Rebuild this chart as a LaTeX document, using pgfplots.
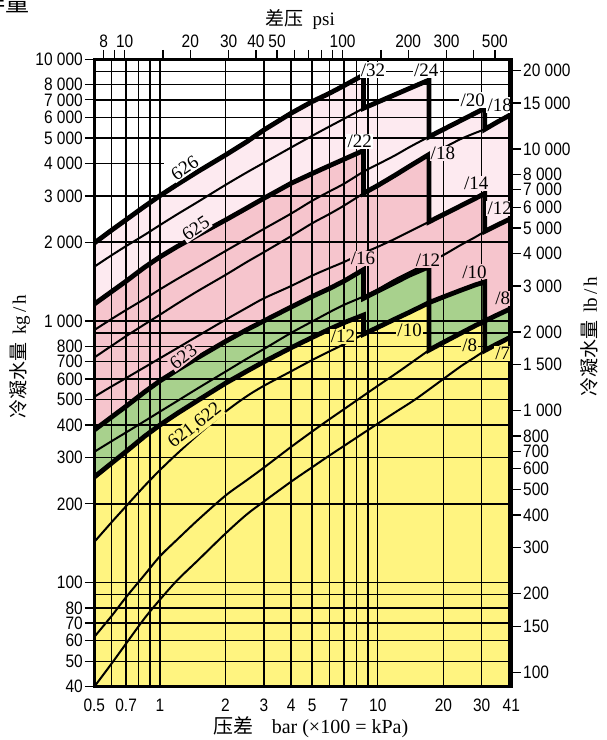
\documentclass[border=0pt]{standalone}
\usepackage{fontspec}
\setmainfont{Liberation Serif}
\newfontfamily\sansn{Liberation Sans}[FakeStretch=0.86]
\newfontfamily\cjk{Noto Sans CJK SC}
\usepackage{pgfplots}
\pgfplotsset{compat=1.18}
\definecolor{lpink}{RGB}{253,234,240}
\definecolor{mpink}{RGB}{246,197,205}
\definecolor{mgreen}{RGB}{168,209,141}
\definecolor{myellow}{RGB}{255,244,128}
\newcommand{\tickf}{\sansn\fontsize{9}{10}\selectfont}
\tikzset{lab/.style={font=\fontsize{9.5}{10}\selectfont, inner sep=0.6pt}}
\pgfplotsset{
  thickenv/.style={black, line width=2.4pt, line join=miter, line cap=butt},
  thinline/.style={black, line width=1pt, smooth, tension=0.5},
}
\begin{document}
\begin{tikzpicture}
\begin{axis}[
  set layers,
  at={(0pt,0pt)}, anchor=south west,
  scale only axis, width=208.5pt, height=313.7pt,
  xmode=log, ymode=log,
  xmin=0.5, xmax=41, ymin=40, ymax=10000,
  axis line style={line width=1.4pt},
  tick align=outside,
  major tick length=4.75pt, minor tick length=0pt,
  tick style={black, line width=0.65pt},
  xtick={0.5,0.7,1,2,3,4,5,7,10,20,30,41},
  xticklabels={0.5,0.7,1,2,3,4,5,7,10,20,30,41},
  xtick pos=left, xticklabel pos=left,
  xtick style={draw=none},
  ytick={40,50,60,70,80,100,200,300,400,500,600,700,800,1000,2000,3000,4000,5000,6000,7000,8000,10000},
  yticklabels={40,50,60,70,80,100,200,300,400,500,600,700,800,{1 000},{2 000},{3 000},{4 000},{5 000},{6 000},{7 000},{8 000},{10 000}},
  ytick pos=left, yticklabel pos=left,
  minor xtick={0.6,0.7,0.8,0.9,1,2,3,4,5,6,7,8,9,10,20,30,40},
  minor ytick={50,60,70,80,90,100,200,300,400,500,600,700,800,900,1000,2000,3000,5000,6000,7000,8000,9000},
  xminorgrids=true, yminorgrids=true,
  xmajorgrids=false, ymajorgrids=false,
  minor grid style={black, line width=0.7pt},
  ticklabel style={font=\tickf},
  xticklabel style={yshift=2.2pt},
  yticklabel style={inner sep=0.8pt},
]
% ---------- fills ----------
\addplot[on layer=axis background, fill=lpink, draw=none] coordinates {
(0.5,40) (0.5,1985) (0.6,2222) (0.7,2437) (0.85,2739) (1,3010) (1.2,3322) (1.5,3731) (2,4306) (2.5,4836) (3,5368) (4,6221) (5,6893) (6,7413) (7,7933) (8.6,8710) (8.6,6500) (10,6863) (12,7328) (14,7746) (17.2,8334) (17.2,5060) (20,5395) (24,5830) (28,6225) (31,6500) (31,5400) (35,5730) (41,6160) (41,40)};
\addplot[on layer=axis background, fill=mpink, draw=none] coordinates {
(0.5,40) (0.5,1160) (0.6,1294) (0.7,1419) (0.85,1603) (1,1756) (1.2,1924) (1.5,2133) (2,2430) (2.5,2698) (3,2942) (4,3357) (5,3660) (6,3920) (7,4150) (8.6,4480) (8.6,3074) (10,3294) (12,3605) (14,3904) (17.2,4330) (17.2,2393) (20,2550) (24,2753) (28,2937) (31,3074) (31,2200) (35,2315) (41,2466) (41,40)};
\addplot[on layer=axis background, fill=mgreen, draw=none] coordinates {
(0.5,40) (0.5,383) (0.6,429) (0.7,472) (0.85,535) (1,590) (1.2,649) (1.5,726) (2,835) (2.5,925) (3,1000) (4,1130) (5,1240) (6,1330) (7,1420) (8.6,1570) (8.6,1220) (10,1300) (12,1403) (14,1497) (17.2,1612) (17.2,1175) (20,1235) (24,1309) (28,1373) (31,1410) (31,1000) (35,1050) (41,1117) (41,40)};
\addplot[on layer=axis background, fill=myellow, draw=none] coordinates {
(0.5,40) (0.5,253) (0.6,286) (0.7,317) (0.85,362) (1,400) (1.2,443) (1.5,498) (2,578) (2.5,642) (3,698) (4,790) (5,865) (6,930) (7,985) (8.6,1053) (8.6,890) (10,945) (12,1017) (14,1080) (17.2,1175) (17.2,774) (20,828) (24,897) (28,959) (31,1000) (31,771) (35,814) (41,870) (41,40)};
% partial grid line at 4000
\addplot[on layer=axis grid, black, line width=0.7pt] coordinates {(0.5,4000) (1.04,4000)};
% ---------- thin orifice lines ----------
\addplot[thinline] coordinates {(0.5,1612) (0.6,1782) (0.7,1933) (0.85,2132) (1,2324) (1.2,2555) (1.5,2858) (2,3310) (2.5,3692) (3,4021) (4,4602) (5,5100) (6,5536) (7,5925) (8.6,6500)};
\addplot[thinline] coordinates {(0.5,923) (0.6,1017) (0.7,1101) (0.85,1213) (1,1320) (1.2,1446) (1.5,1610) (2,1850) (2.5,2059) (3,2247) (4,2572) (5,2880) (6,3126) (7,3345) (8.6,3720) (10,3969) (12,4292) (14,4620) (17.2,5060)};
\addplot[thinline] coordinates {(0.5,725) (0.6,803) (0.7,875) (0.85,970) (1,1056) (1.2,1164) (1.5,1304) (2,1499) (2.5,1678) (3,1831) (4,2109) (5,2362) (6,2563) (7,2760) (8.6,3074)};
\addplot[thinline] coordinates {(17.2,4330) (20,4586) (24,4956) (28,5229) (31,5400)};
\addplot[thinline] coordinates {(0.5,513) (0.6,562) (0.7,605) (0.85,665) (1,720) (1.2,787) (1.5,878) (2,1010) (2.5,1122) (3,1220) (4,1360) (5,1490) (6,1592) (7,1680) (8.6,1820) (10,1920) (12,2060) (14,2198) (17.2,2393)};
\addplot[thinline] coordinates {(0.5,316) (0.6,347) (0.7,375) (0.85,414) (1,450) (1.2,494) (1.5,554) (2,640) (2.5,716) (3,781) (4,900) (5,995) (6,1080) (7,1152) (8.6,1240) (10,1321) (12,1440) (14,1536) (17.2,1675) (20,1785) (24,1950) (28,2090) (31,2200)};
\addplot[thinline] coordinates {(0.5,143) (0.6,170) (0.7,196) (0.85,234) (1,269) (1.2,311) (1.5,368) (2,450) (2.5,515) (3,565) (4,642) (5,709) (6,765) (7,815) (8.6,890)};
\addplot[thinline] coordinates {(0.5,62) (0.6,74.5) (0.7,88) (0.85,107) (1,126) (1.2,146) (1.5,174) (2,215) (2.5,246) (3,275) (4,330) (5,378) (6,421) (7,460) (8.6,518) (10,565) (12,626) (14,685) (17.2,774)};
\addplot[thinline] coordinates {(0.5,40) (0.6,49) (0.7,58.5) (0.85,73) (1,86) (1.2,102) (1.5,122) (2,154) (2.5,182) (3,204) (4,243) (5,276) (6,306) (7,333) (8.6,373) (10,405) (12,447) (15,504) (20,600) (24,670) (28,728) (31,771)};
% ---------- thick envelopes ----------
\addplot[thickenv] coordinates {
(0.5,1985) (0.6,2222) (0.7,2437) (0.85,2739) (1,3010) (1.2,3322) (1.5,3731) (2,4306) (2.5,4836) (3,5368) (4,6221) (5,6893) (6,7413) (7,7933) (8.6,8710) (8.6,6500) (10,6863) (12,7328) (14,7746) (17.2,8334) (17.2,5060) (20,5395) (24,5830) (28,6225) (31,6500) (31,5400) (35,5730) (41,6160)};
\addplot[thickenv] coordinates {
(0.5,1160) (0.6,1294) (0.7,1419) (0.85,1603) (1,1756) (1.2,1924) (1.5,2133) (2,2430) (2.5,2698) (3,2942) (4,3357) (5,3660) (6,3920) (7,4150) (8.6,4480) (8.6,3074) (10,3294) (12,3605) (14,3904) (17.2,4330) (17.2,2393) (20,2550) (24,2753) (28,2937) (31,3074) (31,2200) (35,2315) (41,2466)};
\addplot[thickenv] coordinates {
(0.5,383) (0.6,429) (0.7,472) (0.85,535) (1,590) (1.2,649) (1.5,726) (2,835) (2.5,925) (3,1000) (4,1130) (5,1240) (6,1330) (7,1420) (8.6,1570) (8.6,1220) (10,1300) (12,1403) (14,1497) (17.2,1612) (17.2,1175) (20,1235) (24,1309) (28,1373) (31,1410) (31,1000) (35,1050) (41,1117)};
\addplot[thickenv] coordinates {
(0.5,253) (0.6,286) (0.7,317) (0.85,362) (1,400) (1.2,443) (1.5,498) (2,578) (2.5,642) (3,698) (4,790) (5,865) (6,930) (7,985) (8.6,1053) (8.6,890) (10,945) (12,1017) (14,1080) (17.2,1175) (17.2,774) (20,828) (24,897) (28,959) (31,1000) (31,771) (35,814) (41,870)};
% ---------- labels ----------
\node[lab, fill=white] at (axis cs:9.5,9100) {/32};
\node[lab, fill=white] at (axis cs:16.7,9100) {/24};
\node[lab, fill=white] at (axis cs:27.3,6990) {/20};
\node[lab, fill=white] at (axis cs:36.3,6690) {/18};
\node[lab, fill=white] at (axis cs:8.26,4840) {/22};
\node[lab, fill=lpink] at (axis cs:19.9,4370) {/18};
\node[lab, fill=lpink] at (axis cs:28.3,3360) {/14};
\node[lab, fill=lpink] at (axis cs:36.3,2690) {/12};
\node[lab, fill=mpink] at (axis cs:8.55,1735) {/16};
\node[lab, fill=mpink] at (axis cs:17.0,1710) {/12};
\node[lab, fill=mpink] at (axis cs:27.8,1540) {/10};
\node[lab, fill=mpink] at (axis cs:37.5,1220) {/8};
\node[lab, fill=myellow] at (axis cs:6.92,871) {/12};
\node[lab, fill=myellow] at (axis cs:14.0,923) {/10};
\node[lab, fill=myellow] at (axis cs:26.4,809) {/8};
\node[lab, fill=myellow] at (axis cs:37.5,752) {/7};
\node[lab, fill=white, rotate=34] at (axis cs:1.30,3840) {626};
\node[lab, fill=lpink, rotate=34] at (axis cs:1.46,2259) {625};
\node[lab, fill=mpink, rotate=37] at (axis cs:1.28,730) {623};
\node[lab, fill=myellow, rotate=38] at (axis cs:1.45,397) {621,622};
\end{axis}
% ---------- secondary axis: psi (top) and lb/h (right) ----------
\begin{axis}[
  at={(0pt,0pt)}, anchor=south west,
  scale only axis, width=208.5pt, height=313.7pt,
  xmode=log, ymode=log,
  xmin=7.2519, xmax=594.656, ymin=88.1849, ymax=22046.2,
  axis x line*=top, axis y line*=right,
  axis line style={line width=1.4pt},
  tick align=outside,
  major tick length=4.75pt, minor tick length=4.75pt,
  tick style={black, line width=0.65pt},
  xtick={8,10,20,30,40,50,100,200,300,500},
  xticklabels={8,10,20,30,40,50,100,200,300,500},
  minor xtick={9,15,60,70,80,90,150,400},
  ytick={100,150,200,300,400,500,600,700,800,1000,1500,2000,3000,4000,5000,6000,7000,8000,10000,15000,20000},
  yticklabels={100,150,200,300,400,500,600,700,800,{1 000},{1 500},{2 000},{3 000},{4 000},{5 000},{6 000},{7 000},{8 000},{10 000},{15 000},{20 000}},
  minor ytick={1},
  ticklabel style={font=\tickf},
  xticklabel style={inner sep=1pt},
  yticklabel style={inner sep=1pt},
]
\addplot[draw=none] coordinates {(10,100) (100,1000)};
\end{axis}
% ---------- titles ----------
\node[font=\fontsize{9.5}{11}\selectfont] at (102.85pt,333.35pt) {{\cjk 差压}\hspace{0.5em}psi};
\node[font=\fontsize{10}{11}\selectfont] at (108.35pt,-20.15pt) {{\cjk 压差}\hspace{0.9em}bar (×100 = kPa)};
\node[font=\fontsize{9.5}{11}\selectfont, rotate=90] at (-37.15pt,165pt) {{\cjk 冷凝水量}\hspace{0.4em}kg\,/\,h};
\node[font=\fontsize{9.5}{11}\selectfont, rotate=90] at (247.7pt,175pt) {{\cjk 冷凝水量}\hspace{0.4em}lb\,/\,h};
\node[font=\fontsize{12}{13}\selectfont, anchor=east, inner sep=0pt] at (-32.4pt,342.35pt) {\cjk 排量};
\pgfresetboundingbox
\useasboundingbox (-47.15pt,-26.65pt) rectangle (255.85pt,343.35pt);
\end{tikzpicture}
\end{document}
